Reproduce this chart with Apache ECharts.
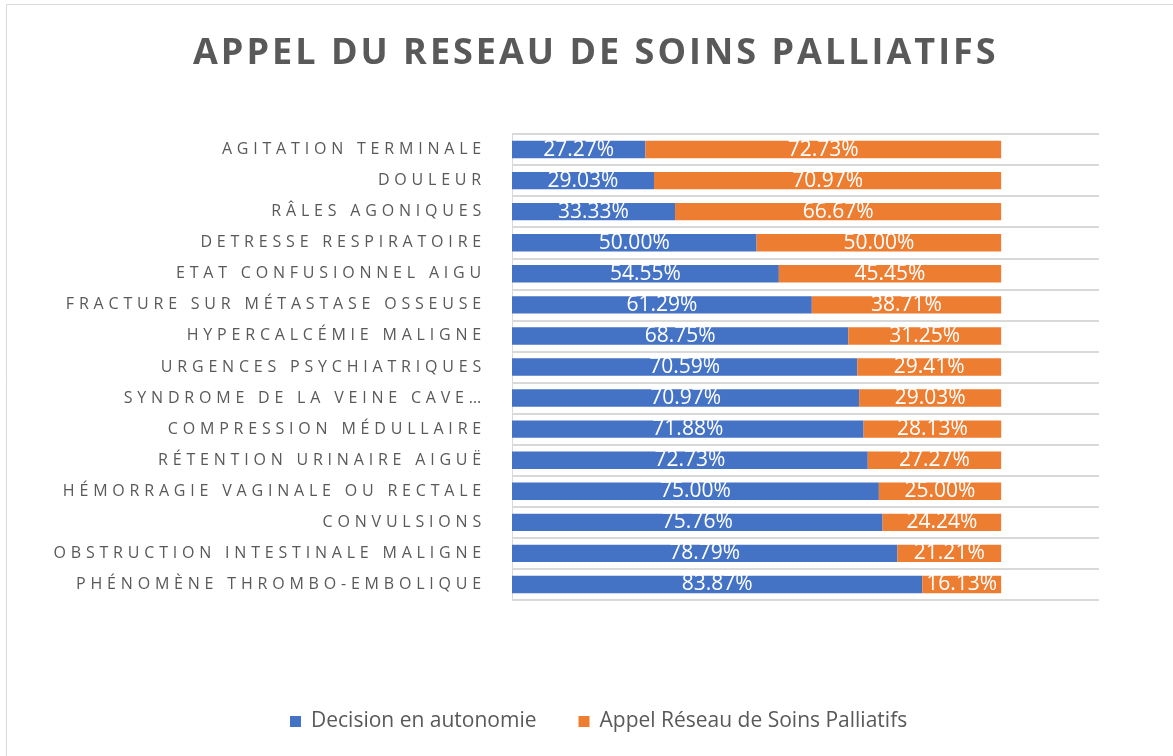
<!DOCTYPE html>
<html>
<head>
<meta charset="utf-8">
<script src="https://cdn.jsdelivr.net/npm/echarts@6/dist/echarts.min.js"></script>
<style>html,body{margin:0;padding:0;background:#fff;}#c{width:1173px;height:756px;}</style>
</head>
<body>
<div id="c"></div>
<script>
const categories = [
  "Agitation terminale",
  "Douleur",
  "Râles agoniques",
  "Detresse respiratoire",
  "Etat confusionnel aigu",
  "Fracture sur métastase osseuse",
  "Hypercalcémie maligne",
  "Urgences psychiatriques",
  "Syndrome de la veine cave…",
  "Compression médullaire",
  "Rétention urinaire aiguë",
  "Hémorragie vaginale ou rectale",
  "Convulsions",
  "Obstruction intestinale maligne",
  "Phénomène thrombo-embolique"
];
const decisionAutonomie = [27.27, 29.03, 33.33, 50.00, 54.55, 61.29, 68.75, 70.59, 70.97, 71.88, 72.73, 75.00, 75.76, 78.79, 83.87];
const appelReseau = [72.73, 70.97, 66.67, 50.00, 45.45, 38.71, 31.25, 29.41, 29.03, 28.13, 27.27, 25.00, 24.24, 21.21, 16.13];
const seriesNames = ["Decision en autonomie", "Appel Réseau de Soins Palliatifs"];

// Excel-style letter spacing for the category labels and the title only
const origFill = CanvasRenderingContext2D.prototype.fillText;
CanvasRenderingContext2D.prototype.fillText = function (t, x, y, m) {
  const f = this.font || '';
  let ls = '0px';
  if (f.indexOf('16px') >= 0) ls = '4.8px';
  else if (f.indexOf('36px') >= 0) ls = '3px';
  if ('letterSpacing' in this) {
    this.letterSpacing = ls;
    const ff = this.font; this.font = ff;
  }
  if (m === undefined) origFill.call(this, t, x, y); else origFill.call(this, t, x, y, m);
  if ('letterSpacing' in this) {
    this.letterSpacing = '0px';
    const ff = this.font; this.font = ff;
  }
};

const chart = echarts.init(document.getElementById('c'), null, {renderer: 'canvas'});
const labelFmt = p => p.value.toFixed(2) + '%';
const FONT = 'Open Sans';
chart.setOption({
  animation: false,
  color: ['#4472C4', '#ED7D31'],
  graphic: [{
    type: 'rect', silent: true,
    shape: {x: 6.5, y: 4.5, width: 1200, height: 800},
    style: {fill: 'none', stroke: '#D9D9D9', lineWidth: 1}
  }],
  title: {
    text: 'APPEL DU RESEAU DE SOINS PALLIATIFS',
    left: 188, top: 31,
    textStyle: {fontFamily: FONT, fontWeight: 'bold', fontSize: 36, color: '#595959'}
  },
  legend: {
    bottom: 19, left: 285,
    icon: 'rect', itemWidth: 11, itemHeight: 11, itemGap: 42,
    textStyle: {fontFamily: FONT, fontSize: 21, color: '#595959', padding: [0, 0, 0, 5]},
    data: seriesNames
  },
  grid: {left: 512, right: 74, top: 134, bottom: 156, containLabel: false},
  xAxis: {
    type: 'value', min: 0, max: 120, show: true,
    axisLine: {show: false}, axisTick: {show: false}, axisLabel: {show: false},
    splitLine: {show: false}
  },
  yAxis: {
    type: 'category', inverse: true, data: categories,
    axisLine: {show: true, lineStyle: {color: '#D9D9D9', width: 1}},
    axisTick: {show: false},
    splitLine: {show: true, lineStyle: {color: '#D9D9D9', width: 2}},
    axisLabel: {
      formatter: v => v.toUpperCase(),
      fontFamily: FONT, fontSize: 16, color: '#595959', margin: 26
    }
  },
  series: [
    {
      name: seriesNames[0], type: 'bar', stack: 'total', barWidth: '56%',
      data: decisionAutonomie,
      label: {show: true, position: 'inside', formatter: labelFmt, color: '#fff', fontFamily: FONT, fontSize: 21, textBorderWidth: 0}
    },
    {
      name: seriesNames[1], type: 'bar', stack: 'total', barWidth: '56%',
      data: appelReseau,
      label: {show: true, position: 'inside', formatter: labelFmt, color: '#fff', fontFamily: FONT, fontSize: 21, textBorderWidth: 0}
    }
  ]
});
</script>
</body>
</html>
